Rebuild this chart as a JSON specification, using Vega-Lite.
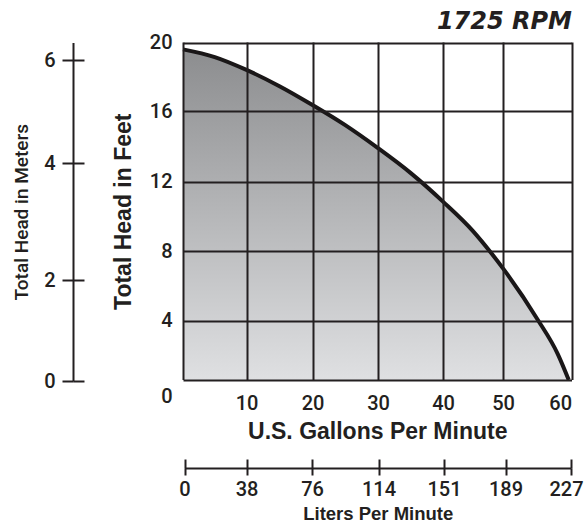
{
  "$schema": "https://vega.github.io/schema/vega-lite/v6.json",
  "autosize": {"type": "none"},
  "padding": {"left": 183, "top": 42, "right": 16, "bottom": 142},
  "width": 389,
  "height": 338,
  "background": "white",
  "config": {
    "view": {"stroke": null},
    "font": "Liberation Sans",
    "axis": {"labelColor": "#231f20", "titleColor": "#231f20", "labelFont": "Roboto", "labelFontWeight": 500, "titleFont": "Liberation Sans"}
  },
  "title": {
    "text": "1725 RPM",
    "anchor": "end",
    "frame": "group",
    "font": "DejaVu Sans",
    "fontSize": 24,
    "fontWeight": "bold",
    "fontStyle": "italic",
    "color": "#231f20",
    "baseline": "bottom",
    "offset": -25
  },
  "resolve": {"scale": {"x": "independent", "y": "independent"}, "axis": {"x": "independent", "y": "independent"}},
  "layer": [
    {
      "data": {
        "values": [
          {"gpm": 0, "feet": 19.6},
          {"gpm": 5, "feet": 19.15},
          {"gpm": 10, "feet": 18.4},
          {"gpm": 15, "feet": 17.45},
          {"gpm": 20, "feet": 16.35},
          {"gpm": 25, "feet": 15.2},
          {"gpm": 30, "feet": 13.9},
          {"gpm": 35, "feet": 12.5},
          {"gpm": 40, "feet": 10.85},
          {"gpm": 45, "feet": 9.15},
          {"gpm": 48, "feet": 7.9},
          {"gpm": 50, "feet": 7.0},
          {"gpm": 55, "feet": 4.1},
          {"gpm": 58, "feet": 1.75},
          {"gpm": 59.6, "feet": 0}
        ]
      },
      "encoding": {
        "x": {
          "field": "gpm",
          "type": "quantitative",
          "scale": {"domain": [0, 10, 20, 30, 40, 50, 60], "range": [0, 63.5, 129.5, 195, 260, 320, 388.5], "nice": false, "zero": false},
          "axis": {
            "orient": "bottom",
            "values": [0, 10, 20, 30, 40, 50, 60],
            "labelExpr": "datum.value == 0 ? '' : datum.label",
            "labelAlign": {"condition": {"test": "datum.value == 60", "value": "right"}, "value": "center"},
            "labelFontSize": 20,
            "labelPadding": 13,
            "labelFlush": false,
            "labelOverlap": false,
            "ticks": false,
            "domain": false,
            "grid": true,
            "gridColor": "#231f20",
            "gridWidth": 2,
            "gridOpacity": 1,
            "title": "U.S. Gallons Per Minute",
            "titleFontSize": 23,
            "titleFontWeight": "bold",
            "titlePadding": 7,
            "zindex": 1
          }
        },
        "y": {
          "field": "feet",
          "type": "quantitative",
          "scale": {"domain": [0, 4, 8, 12, 16, 20], "range": [338, 278.7, 209, 139.7, 69, 0.5], "nice": false, "zero": false},
          "axis": {
            "orient": "left",
            "values": [0, 4, 8, 12, 16, 20],
            "labelFontSize": 20,
            "labelPadding": 11,
            "labelOffset": {"condition": {"test": "datum.value == 0", "value": 16}, "value": 0},
            "labelFlush": false,
            "labelOverlap": false,
            "ticks": false,
            "domain": false,
            "grid": true,
            "gridColor": "#231f20",
            "gridWidth": 2,
            "gridOpacity": 1,
            "title": "Total Head in Feet",
            "titleFontSize": 23,
            "titleFontWeight": "bold",
            "titlePadding": 14,
            "zindex": 1
          }
        }
      },
      "layer": [
        {
          "mark": {
            "type": "area",
            "interpolate": "monotone",
            "color": {
              "gradient": "linear",
              "x1": 0, "y1": 0, "x2": 0, "y2": 1,
              "stops": [
                {"offset": 0, "color": "#8c8d8f"},
                {"offset": 1, "color": "#dfe0e2"}
              ]
            }
          }
        },
        {
          "mark": {"type": "line", "interpolate": "monotone", "color": "#1a1718", "strokeWidth": 4}
        }
      ]
    },
    {
      "data": {"values": [{"meters": 0}, {"meters": 6}]},
      "mark": {"type": "point", "opacity": 0},
      "encoding": {
        "y": {
          "field": "meters",
          "type": "quantitative",
          "scale": {"domain": [0, 2, 4, 6, 6.33], "range": [339, 238, 121, 18, 0.5], "nice": false, "zero": false},
          "axis": {
            "orient": "left",
            "offset": 110,
            "values": [0, 2, 4, 6],
            "labelFontSize": 20,
            "labelPadding": 7,
            "tickSize": 11,
            "tickWidth": 2,
            "tickColor": "#231f20",
            "domainColor": "#231f20",
            "domainWidth": 2,
            "grid": false,
            "labelFlush": false,
            "labelOverlap": false,
            "title": "Total Head in Meters",
            "titleFont": "Roboto",
            "titleFontSize": 19,
            "titleFontWeight": 500,
            "titlePadding": 12
          }
        }
      }
    },
    {
      "data": {"values": [{"meters": 0}, {"meters": 6}]},
      "mark": {"type": "point", "opacity": 0},
      "encoding": {
        "y": {
          "field": "meters",
          "type": "quantitative",
          "scale": {"domain": [0, 2, 4, 6, 6.33], "range": [339, 238, 121, 18, 0.5], "nice": false, "zero": false},
          "axis": {
            "orient": "left",
            "offset": 110,
            "values": [0, 2, 4, 6],
            "labels": false,
            "domain": false,
            "tickSize": -11,
            "tickWidth": 2,
            "tickColor": "#231f20",
            "grid": false,
            "title": null
          }
        }
      }
    },
    {
      "data": {"values": [{"liters": 0}, {"liters": 227}]},
      "mark": {"type": "point", "opacity": 0},
      "encoding": {
        "x": {
          "field": "liters",
          "type": "quantitative",
          "scale": {"domain": [0, 38, 76, 114, 151, 189, 227], "range": [1.5, 63.5, 129, 195.5, 261, 322.5, 388], "nice": false, "zero": false},
          "axis": {
            "orient": "bottom",
            "offset": 88,
            "values": [0, 38, 76, 114, 151, 189, 227],
            "labelFontSize": 20,
            "labelPadding": 4,
            "labelOffset": {"condition": {"test": "datum.value == 227", "value": -5}, "value": 0},
            "labelFlush": false,
            "labelOverlap": false,
            "tickSize": 7,
            "tickWidth": 2,
            "tickColor": "#231f20",
            "domainColor": "#231f20",
            "domainWidth": 2,
            "grid": false,
            "title": "Liters Per Minute",
            "titleFontSize": 18.5,
            "titleFontWeight": "bold",
            "titlePadding": 5
          }
        }
      }
    },
    {
      "data": {"values": [{"liters": 0}, {"liters": 227}]},
      "mark": {"type": "point", "opacity": 0},
      "encoding": {
        "x": {
          "field": "liters",
          "type": "quantitative",
          "scale": {"domain": [0, 38, 76, 114, 151, 189, 227], "range": [1.5, 63.5, 129, 195.5, 261, 322.5, 388], "nice": false, "zero": false},
          "axis": {
            "orient": "bottom",
            "offset": 88,
            "values": [0, 38, 76, 114, 151, 189, 227],
            "labels": false,
            "domain": false,
            "tickSize": -9,
            "tickWidth": 2,
            "tickColor": "#231f20",
            "grid": false,
            "title": null
          }
        }
      }
    }
  ]
}
